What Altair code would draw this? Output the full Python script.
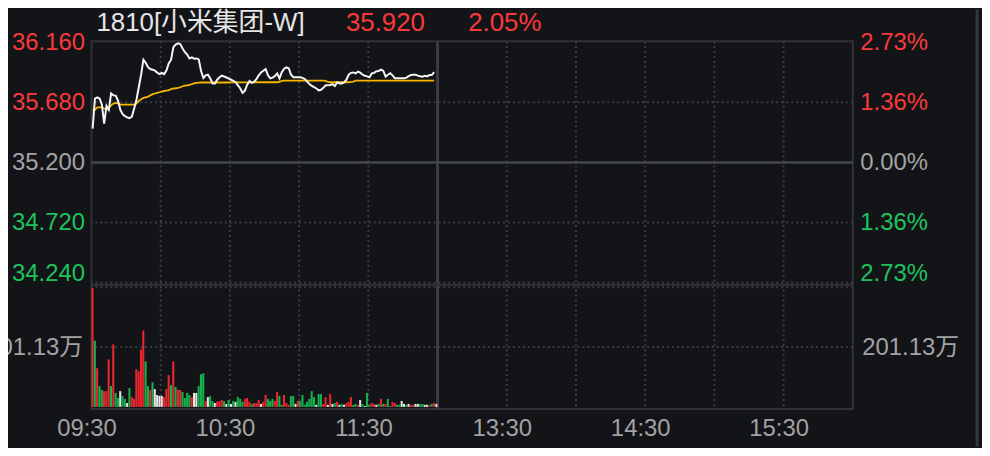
import altair as alt
import pandas as pd

# ---------------- data ----------------
TITLE = "1810[小米集团-W]"
LAST_PRICE = "35.920"
CHANGE = "2.05%"
PREV_CLOSE = 35.2

PRICE = [35.47, 35.71, 35.72, 35.71, 35.66, 35.51, 35.65, 35.62, 35.75, 35.735,
         35.733, 35.693, 35.62, 35.585, 35.57, 35.56, 35.553, 35.565, 35.63, 35.70,
         35.80, 35.90, 36.02, 35.995, 35.96, 35.945, 35.94, 35.932, 35.917, 35.905,
         35.915, 35.905, 35.935, 35.99, 36.02, 36.12, 36.14, 36.15, 36.144, 36.11,
         36.08, 36.06, 36.03, 36.038, 36.028, 36.03, 36.022, 35.93, 35.873, 35.895,
         35.90, 35.87, 35.83, 35.83, 35.86, 35.88, 35.892, 35.886, 35.878, 35.868,
         35.86, 35.85, 35.84, 35.815, 35.79, 35.755, 35.773, 35.82, 35.85, 35.835,
         35.845, 35.865, 35.895, 35.918, 35.932, 35.945, 35.895, 35.871, 35.877, 35.89,
         35.91, 35.87, 35.92, 35.948, 35.958, 35.952, 35.90, 35.88, 35.879, 35.879,
         35.879, 35.875, 35.865, 35.845, 35.825, 35.81, 35.80, 35.79, 35.775, 35.78,
         35.795, 35.815, 35.815, 35.818, 35.825, 35.81, 35.84, 35.83, 35.83, 35.839,
         35.86, 35.90, 35.915, 35.918, 35.91, 35.925, 35.916, 35.90, 35.892, 35.887,
         35.879, 35.91, 35.915, 35.928, 35.93, 35.94, 35.93, 35.885, 35.90, 35.912,
         35.895, 35.871, 35.871, 35.871, 35.871, 35.871, 35.877, 35.888, 35.898, 35.90,
         35.90, 35.893, 35.887, 35.884, 35.891, 35.887, 35.897, 35.897, 35.92]

AVG = [35.62, 35.62, 35.64, 35.64, 35.64, 35.63, 35.625, 35.635, 35.655, 35.67,
       35.675, 35.67, 35.662, 35.662, 35.662, 35.662, 35.662, 35.662, 35.662, 35.67,
       35.69, 35.705, 35.715, 35.72, 35.725, 35.735, 35.745, 35.75, 35.755, 35.76,
       35.765, 35.77, 35.773, 35.776, 35.785, 35.79, 35.792, 35.795, 35.80, 35.808,
       35.812, 35.815, 35.818, 35.825, 35.83, 35.834, 35.836, 35.838, 35.838, 35.838,
       35.838, 35.838, 35.838, 35.838, 35.838, 35.838, 35.838, 35.838, 35.838, 35.838,
       35.839, 35.839, 35.839, 35.839, 35.839, 35.839, 35.839, 35.839, 35.839, 35.839,
       35.84, 35.84, 35.84, 35.84, 35.84, 35.84, 35.84, 35.84, 35.84, 35.84,
       35.84, 35.842, 35.85, 35.852, 35.852, 35.852, 35.852, 35.852, 35.852, 35.852,
       35.852, 35.852, 35.852, 35.852, 35.852, 35.852, 35.852, 35.852, 35.852, 35.852,
       35.852, 35.85, 35.842, 35.84, 35.84, 35.84, 35.84, 35.84, 35.84, 35.84,
       35.84, 35.84, 35.842, 35.845, 35.852, 35.852, 35.852, 35.852, 35.852, 35.852,
       35.852, 35.852, 35.852, 35.852, 35.852, 35.852, 35.852, 35.852, 35.852, 35.852,
       35.853, 35.853, 35.853, 35.853, 35.853, 35.853, 35.853, 35.853, 35.853, 35.853,
       35.853, 35.853, 35.853, 35.853, 35.853, 35.853, 35.853, 35.853, 35.853]

# volume in 万 per minute
VOLUME = [400, 223, 130, 70, 57, 53, 53, 160, 70, 210,
          47, 30, 53, 37, 27, 13, 63, 33, 27, 127,
          120, 193, 257, 153, 70, 57, 83, 60, 40, 37,
          37, 33, 60, 107, 73, 153, 67, 57, 57, 50,
          30, 47, 40, 33, 47, 47, 70, 110, 113, 20,
          33, 37, 20, 13, 17, 20, 23, 20, 10, 23,
          10, 20, 17, 33, 27, 17, 27, 30, 17, 10,
          13, 13, 23, 10, 17, 40, 27, 20, 27, 20,
          50, 37, 7, 40, 13, 7, 37, 37, 10, 20,
          20, 40, 7, 17, 27, 53, 33, 7, 43, 43,
          10, 33, 7, 43, 10, 13, 17, 7, 10, 7,
          13, 17, 33, 7, 10, 7, 23, 10, 3, 47,
          7, 13, 10, 7, 10, 27, 10, 10, 27, 3,
          17, 13, 7, 7, 20, 10, 7, 10, 7, 7,
          10, 10, 10, 10, 7, 7, 7, 10, 13, 10]
VOL_DIR = list("RGRGGRRRGRGGWGGWGRRRRRRGGRGWWWWRRRGRGRRGGGGRWWGGGRWGGWRRRGWGWGWGGGRRRGRRRWRRGGGRRGGRRRGGWRGGGGGGGWGGRRWRWGRWGWRRRGGRWGWGGRRWGRGRGGRRGGWWGWRRWWGGWWRGRW")

PRICE_TICKS = [36.16, 35.68, 35.20, 34.72, 34.24]
VOL_TICKS = [201.13]
VOL_MAX = 402.26
TIME_TICKS = [0, 60, 120, 180, 240, 300]
TIME_LABELS = ["09:30", "10:30", "11:30", "13:30", "14:30", "15:30"]
GRID_MINUTES = [30, 60, 90, 120, 180, 210, 240, 270, 300]
LUNCH_MINUTES = [150]
SESSION_MINUTES = 330

# ---------------- style ----------------
BG = "#131418"
RED_T = "#fa3a3a"
GREEN_T = "#1ec35c"
GRAY_T = "#a3a3a3"
BAR_COLORS = {"R": "#e8272f", "G": "#15b14c", "W": "#e4e4e4"}
FONT = "Liberation Sans, Noto Sans CJK SC, sans-serif"
FS = 24
TFS = 26
W, H = 766, 370

price_df = pd.DataFrame({"m": range(len(PRICE)), "price": PRICE, "avg": AVG})
price_df["xm"] = price_df["m"] + 0.5
vol_df = pd.DataFrame({"m": range(len(VOLUME)), "vol": VOLUME, "dir": VOL_DIR[:len(VOLUME)]})
vol_df["m2"] = vol_df["m"] + 0.9

x_scale = alt.Scale(domain=[0, SESSION_MINUTES], nice=False, zero=False)
p_scale = alt.Scale(domain=[PRICE_TICKS[-1], PRICE_TICKS[0]], range=[243, 1], nice=False, zero=False)
v_scale = alt.Scale(domain=[0, VOL_MAX], range=[368, 247.7], nice=False, zero=False)

label_expr = " : ".join(f"datum.value == {t} ? '{l}'" for t, l in zip(TIME_TICKS, TIME_LABELS)) + " : ''"
X_AXIS = alt.Axis(values=TIME_TICKS, labelExpr=label_expr, domain=False, ticks=False, grid=False,
                  labelFontSize=FS, labelColor=GRAY_T, labelFont=FONT, labelPadding=8,
                  labelOffset=-5, labelFlush=False, labelOverlap=False, title=None)

price_color = {"condition": [{"test": f"datum.value > {PREV_CLOSE + 0.01}", "value": RED_T},
                             {"test": f"datum.value < {PREV_CLOSE - 0.01}", "value": GREEN_T}],
               "value": GRAY_T}
price_offset = {"condition": {"test": f"datum.value < {PRICE_TICKS[-1] + 0.05}", "value": -9}, "value": 0}

def y_axis(orient, values, expr, color, offset=0, pad=7):
    return alt.Axis(orient=orient, values=values, labelExpr=expr, domain=False, ticks=False,
                    grid=False, labelFontSize=FS, labelFont=FONT, labelColor=color,
                    labelOffset=offset, labelPadding=pad, labelOverlap=False, title=None)

X = lambda f: alt.X(f, type="quantitative", scale=x_scale, axis=X_AXIS)

# grid lines
pgrid_dot = pd.DataFrame({"v": [PRICE_TICKS[1], PRICE_TICKS[3], PRICE_TICKS[4]]})
pgrid_solid = pd.DataFrame({"v": [PREV_CLOSE]})
vgrid_dot = pd.DataFrame({"v": VOL_TICKS + [VOL_MAX]})
xgrid_dot = pd.DataFrame({"t": GRID_MINUTES})
xgrid_solid = pd.DataFrame({"t": LUNCH_MINUTES})

DOT = dict(color="#3a3c42", strokeDash=[2, 3], strokeWidth=2)

l_pdot = alt.Chart(pgrid_dot).mark_rule(**DOT).encode(y=alt.Y("v:Q", scale=p_scale, axis=None))
l_psol = alt.Chart(pgrid_solid).mark_rule(color="#45474c", strokeWidth=2.5).encode(
    y=alt.Y("v:Q", scale=p_scale, axis=None))
l_vdot = alt.Chart(vgrid_dot).mark_rule(**DOT).encode(
    y=alt.Y("v:Q", scale=v_scale,
            axis=y_axis("right", VOL_TICKS, "format(datum.value, '.2f') + '万'", GRAY_T, pad=9)))
l_xdot = alt.Chart(xgrid_dot).mark_rule(**DOT).encode(x=X("t"))
l_xsol = alt.Chart(xgrid_solid).mark_rule(color="#3b3d42", strokeWidth=3).encode(x=X("t"))
l_sep = alt.Chart(pgrid_solid).mark_rule(color="#303237", strokeWidth=2).encode(
    x=alt.value(0), x2=alt.value(W), y=alt.value(245))

l_bars = alt.Chart(vol_df).mark_bar().encode(
    x=X("m"), x2="m2",
    y=alt.Y("vol:Q", scale=v_scale,
            axis=y_axis("left", VOL_TICKS, "format(datum.value, '.2f') + '万'", GRAY_T, pad=9)),
    y2=alt.datum(0),
    color=alt.Color("dir:N", scale=alt.Scale(domain=list(BAR_COLORS), range=list(BAR_COLORS.values())),
                    legend=None),
)

l_avg = alt.Chart(price_df).mark_line(color="#f7b500", strokeWidth=1.8).encode(
    x=X("xm"),
    y=alt.Y("avg:Q", scale=p_scale,
            axis=y_axis("right", PRICE_TICKS,
                        f"format(abs(datum.value - {PREV_CLOSE}) / {PREV_CLOSE} * 100, '.2f') + '%'",
                        price_color, price_offset, pad=7)),
)
l_price = alt.Chart(price_df).mark_line(color="#f5f5f5", strokeWidth=2).encode(
    x=X("xm"),
    y=alt.Y("price:Q", scale=p_scale,
            axis=y_axis("left", PRICE_TICKS, "format(datum.value, '.3f')", price_color, price_offset)),
)

head = pd.DataFrame({"t": [TITLE, LAST_PRICE, CHANGE]})
TY = -10
l_t1 = alt.Chart(head).transform_filter(f"datum.t == '{TITLE}'").mark_text(
    font=FONT, fontSize=TFS, color="#e6e6e6", align="left", baseline="alphabetic").encode(
    text="t:N", x=alt.value(5), y=alt.value(TY))
l_t2 = alt.Chart(head).transform_filter(f"datum.t == '{LAST_PRICE}'").mark_text(
    font=FONT, fontSize=TFS, color=RED_T, align="left", baseline="alphabetic").encode(
    text="t:N", x=alt.value(256), y=alt.value(TY))
l_t3 = alt.Chart(head).transform_filter(f"datum.t == '{CHANGE}'").mark_text(
    font=FONT, fontSize=TFS, color=RED_T, align="left", baseline="alphabetic").encode(
    text="t:N", x=alt.value(379), y=alt.value(TY))
l_edge = alt.Chart(head).transform_filter(f"datum.t == '{TITLE}'").mark_rule(
    color="#35373c", strokeWidth=3).encode(x=alt.value(891), y=alt.value(-32), y2=alt.value(408))

chart = alt.layer(
    l_xdot, l_xsol, l_pdot, l_psol, l_vdot, l_sep, l_bars, l_avg, l_price,
    l_t1, l_t2, l_t3, l_edge,
).resolve_scale(y="independent").resolve_axis(y="independent").properties(
    width=W, height=H,
    autosize=alt.AutoSizeParams(type="none"),
    padding={"left": 84, "top": 32, "right": 130, "bottom": 38},
    background=BG,
).configure_view(stroke="#303237", strokeWidth=2)

chart.save("out.html", embed_options={"renderer": "svg", "actions": False})
